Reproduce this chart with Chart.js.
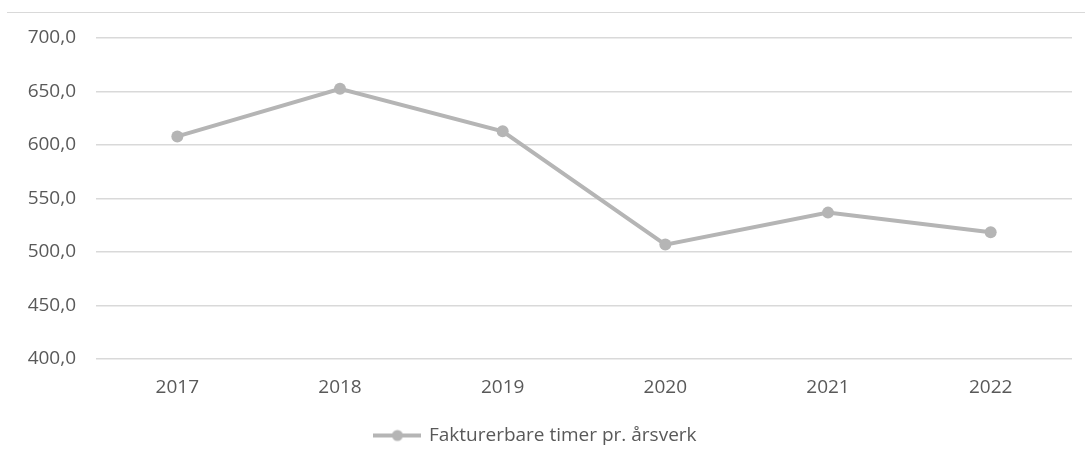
<!DOCTYPE html>
<html>
<head>
<meta charset="utf-8">
<script src="https://cdn.jsdelivr.net/npm/chart.js@4"></script>
<style>
  html, body { margin: 0; padding: 0; background: #fff; }
  #wrap { position: relative; width: 1085px; height: 465px; }
  #topLine { position: absolute; left: 7px; right: 0; top: 12px; height: 1px; background: #d9d9d9; }
  canvas { position: absolute; left: 0; top: 0; }
</style>
</head>
<body>
<div id="wrap">
  <div id="topLine"></div>
  <canvas id="hoursChart" width="1085" height="465"></canvas>
</div>
<script>
const years = ['2017', '2018', '2019', '2020', '2021', '2022'];
const hoursPerFte = [608.0, 652.5, 612.8, 506.9, 536.8, 518.5];
const seriesName = 'Fakturerbare timer pr. årsverk';

const lineColor = '#b5b5b5';
const textColor = '#595959';
const gridColor = '#d9d9d9';
const fontFamily = '"Open Sans", "Noto Sans", sans-serif';
const fontSize = 19;

// legend icon: short line with a dot in the middle, like the office legend
function legendIcon() {
  const c = document.createElement('canvas');
  c.width = 48;
  c.height = 14;
  const g = c.getContext('2d');
  g.strokeStyle = lineColor;
  g.lineWidth = 4;
  g.beginPath();
  g.moveTo(0, 7);
  g.lineTo(48, 7);
  g.stroke();
  g.fillStyle = lineColor;
  g.beginPath();
  g.arc(24, 7, 5.5, 0, Math.PI * 2);
  g.fill();
  return c;
}

const ctx = document.getElementById('hoursChart').getContext('2d');
new Chart(ctx, {
  type: 'line',
  data: {
    labels: years,
    datasets: [{
      label: seriesName,
      data: hoursPerFte,
      borderColor: lineColor,
      backgroundColor: lineColor,
      borderWidth: 4,
      pointRadius: 6,
      pointBackgroundColor: lineColor,
      pointBorderWidth: 0,
      tension: 0,
      fill: false
    }]
  },
  options: {
    responsive: false,
    animation: false,
    layout: { padding: { top: 38, right: 13, bottom: 10, left: 0 } },
    plugins: {
      tooltip: { enabled: false },
      legend: {
        position: 'bottom',
        labels: {
          usePointStyle: true,
          pointStyle: legendIcon(),
          pointStyleWidth: 44,
          boxHeight: 14,
          padding: 8,
          color: textColor,
          font: { family: fontFamily, size: fontSize }
        }
      }
    },
    scales: {
      x: {
        offset: true,
        grid: { display: false, drawTicks: false },
        border: { display: false },
        ticks: { color: textColor, padding: 17, font: { family: fontFamily, size: fontSize } },
        afterFit: scale => { scale.height = 59; }
      },
      y: {
        min: 400,
        max: 700,
        grid: { color: gridColor, lineWidth: 1.5, drawTicks: false },
        border: { display: false },
        ticks: {
          stepSize: 50,
          color: textColor,
          padding: 20,
          font: { family: fontFamily, size: fontSize },
          callback: v => v.toFixed(1).replace('.', ',')
        },
        afterFit: scale => { scale.width = 96; }
      }
    }
  }
});
</script>
</body>
</html>
